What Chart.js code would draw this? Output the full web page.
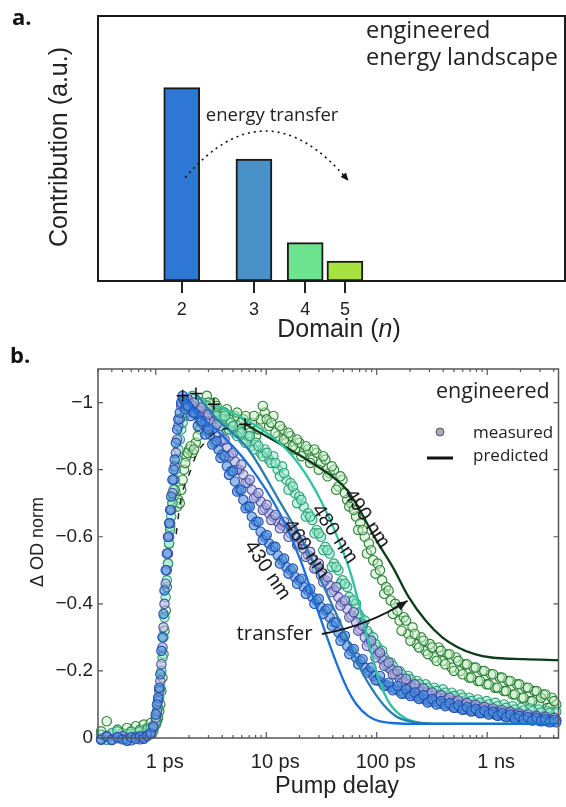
<!DOCTYPE html>
<html>
<head>
<meta charset="utf-8">
<script src="https://cdn.jsdelivr.net/npm/chart.js@4/dist/chart.umd.min.js"></script>
<style>
  html, body { margin: 0; padding: 0; background: #fff; }
  body { width: 566px; height: 807px; position: relative; overflow: hidden; }
  canvas { position: absolute; left: 0; }
  #domains { top: 0; }
  #kinetics { top: 345px; }
</style>
</head>
<body>
<canvas id="domains" width="566" height="345"></canvas>
<canvas id="kinetics" width="566" height="462"></canvas>
<script>
// ---- a. domain distribution ----
const domainN = [2, 3, 4, 5]
const contribution = [0.73, 0.46, 0.145, 0.075]
const domainColors = ['#2f77d6', '#4890c8', '#6ee490', '#a6e240']

// ---- b. transient absorption kinetics (delay in ps) ----
// first scan
const delays = [0.32, 0.36, 0.40, 0.45, 0.50, 0.55, 0.60, 0.66, 0.72, 0.78, 0.84, 0.90,
  0.95, 1.0, 1.05, 1.1, 1.15, 1.2, 1.26, 1.32, 1.38, 1.45, 1.52, 1.6,
  1.7, 1.8, 1.9, 2.0, 2.15, 2.3, 2.5, 2.7, 2.9, 3.1, 3.4, 3.7, 4.0, 4.4, 4.8, 5.2,
  5.7, 6.2, 6.8, 7.4, 8.1, 8.9, 9.7, 10.6, 11.6, 12.7, 13.9, 15.2, 16.6, 18.2, 19.9,
  21.8, 23.9, 26.1, 28.6, 31.3, 34.3, 37.5, 41, 45, 49, 54, 59, 65, 71, 78, 85, 93,
  102, 112, 122, 134, 147, 161, 176, 193, 211, 231, 253, 277, 303, 332, 364, 398,
  436, 477, 523, 572, 627, 686, 751, 823, 901, 986, 1080, 1180, 1300, 1420, 1550,
  1700, 1860, 2040, 2230, 2450, 2680, 2930, 3210, 3520, 3850, 4220]

const od430 = [0.005, -0.004, 0.006, -0.003, 0.004, 0.008, -0.002, 0.003, -0.005, 0.002, -0.006, -0.015,
  -0.035, -0.07, -0.12, -0.19, -0.3, -0.44, -0.55, -0.64, -0.72, -0.8, -0.88, -0.95,
  -1.0, -1.01, -0.995, -0.985, -0.97, -0.965, -0.945, -0.935, -0.915, -0.905, -0.88, -0.86, -0.845, -0.81, -0.795, -0.765,
  -0.74, -0.71, -0.69, -0.66, -0.645, -0.615, -0.6, -0.58, -0.57, -0.545, -0.53, -0.51, -0.5, -0.48, -0.47,
  -0.45, -0.44, -0.42, -0.41, -0.39, -0.38, -0.36, -0.345, -0.315, -0.3, -0.275, -0.26, -0.24, -0.23, -0.21, -0.2, -0.185,
  -0.172, -0.165, -0.158, -0.152, -0.146, -0.14, -0.133, -0.131, -0.13, -0.123, -0.12, -0.115, -0.11, -0.108, -0.104, -0.101,
  -0.1, -0.095, -0.091, -0.089, -0.086, -0.083, -0.081, -0.079, -0.076, -0.076, -0.072, -0.07, -0.068, -0.066, -0.065,
  -0.062, -0.061, -0.058, -0.055, -0.057, -0.054, -0.052, -0.052, -0.05, -0.049, -0.047]

const od460 = [0.002, -0.006, 0.004, 0.001, -0.005, 0.003, 0.007, -0.002, 0.004, -0.003, -0.008, -0.012,
  -0.03, -0.06, -0.11, -0.17, -0.27, -0.4, -0.5, -0.6, -0.68, -0.77, -0.85, -0.93,
  -0.99, -1.01, -1.0, -1.0, -0.99, -0.98, -0.975, -0.965, -0.955, -0.945, -0.925, -0.905, -0.89, -0.865, -0.845, -0.825,
  -0.8, -0.785, -0.76, -0.74, -0.72, -0.705, -0.685, -0.67, -0.66, -0.645, -0.635, -0.625, -0.61, -0.6, -0.58,
  -0.565, -0.545, -0.53, -0.505, -0.485, -0.47, -0.455, -0.44, -0.42, -0.405, -0.385, -0.365, -0.345, -0.325, -0.3, -0.285, -0.265,
  -0.25, -0.235, -0.22, -0.205, -0.19, -0.178, -0.168, -0.16, -0.152, -0.146, -0.14, -0.135, -0.13, -0.126, -0.121, -0.117,
  -0.114, -0.11, -0.106, -0.103, -0.1, -0.097, -0.094, -0.091, -0.088, -0.085, -0.083, -0.08, -0.078, -0.076, -0.073,
  -0.071, -0.069, -0.067, -0.065, -0.063, -0.061, -0.06, -0.058, -0.057, -0.055, -0.054]

const od480 = [-0.01, 0.005, -0.015, -0.02, 0.0, -0.012, -0.018, -0.005, -0.02, -0.01, -0.025, -0.03,
  -0.02, -0.05, -0.09, -0.15, -0.24, -0.36, -0.47, -0.58, -0.66, -0.74, -0.8, -0.86,
  -0.92, -0.96, -0.99, -1.0, -1.02, -0.99, -1.0, -0.97, -0.99, -0.96, -0.97, -0.94, -0.95, -0.92, -0.94, -0.91,
  -0.92, -0.89, -0.9, -0.87, -0.88, -0.85, -0.86, -0.83, -0.84, -0.8, -0.81, -0.77, -0.76, -0.73, -0.72,
  -0.69, -0.67, -0.65, -0.62, -0.6, -0.57, -0.55, -0.52, -0.5, -0.47, -0.45, -0.41, -0.4, -0.36, -0.35, -0.31, -0.3,
  -0.27, -0.26, -0.23, -0.225, -0.2, -0.2, -0.18, -0.185, -0.165, -0.17, -0.15, -0.16, -0.14, -0.15, -0.13, -0.145,
  -0.125, -0.135, -0.115, -0.13, -0.11, -0.12, -0.1, -0.115, -0.095, -0.11, -0.09, -0.105, -0.085, -0.1, -0.08,
  -0.095, -0.075, -0.09, -0.07, -0.088, -0.068, -0.085, -0.065, -0.08, -0.062, -0.078]

const od490 = [-0.02, -0.05, -0.01, -0.025, -0.015, -0.03, -0.02, -0.035, -0.025, -0.04, -0.03, -0.045,
  -0.03, -0.04, -0.06, -0.1, -0.18, -0.32, -0.45, -0.58, -0.68, -0.72, -0.73, -0.71,
  -0.74, -0.8, -0.84, -0.86, -0.85, -0.88, -0.92, -0.96, -1.02, -0.98, -1.0, -0.97, -0.95, -0.98, -0.94, -0.96,
  -0.93, -0.95, -0.92, -0.94, -0.9, -0.95, -0.97, -0.93, -0.96, -0.9, -0.92, -0.88, -0.9, -0.86, -0.88,
  -0.85, -0.86, -0.83, -0.85, -0.82, -0.83, -0.79, -0.8, -0.75, -0.77, -0.71, -0.7, -0.66, -0.64, -0.6, -0.58, -0.53,
  -0.52, -0.47, -0.45, -0.41, -0.4, -0.35, -0.36, -0.31, -0.33, -0.28, -0.3, -0.26, -0.28, -0.24, -0.27, -0.23,
  -0.25, -0.21, -0.24, -0.2, -0.22, -0.18, -0.21, -0.17, -0.2, -0.16, -0.19, -0.15, -0.18, -0.14, -0.17,
  -0.13, -0.16, -0.12, -0.15, -0.11, -0.14, -0.1, -0.13, -0.09, -0.12, -0.1]

// second scan, offset delays
const delays2 = [1.025, 1.075, 1.125, 1.175, 1.23, 1.29, 1.35, 1.415, 1.485, 1.56,
  1.65, 1.75, 1.85, 1.95, 2.07, 2.22, 2.4, 2.6, 2.8, 3.0,
  3.25, 3.55, 3.85, 4.2, 4.6, 5.0, 5.45, 5.95, 6.5, 7.1,
  7.75, 8.5, 9.3, 10.1, 11.1, 12.1, 13.3, 14.5, 15.9, 17.4,
  19.0, 20.8, 22.8, 25.0, 27.3, 29.9, 32.8, 35.9, 39.2, 43,
  47, 51.5, 56.5, 62, 68, 74.5, 81.5, 89, 97.5, 107,
  117, 128, 140, 154, 168, 184, 202, 221, 242, 265,
  290, 317, 348, 381, 417, 456, 500, 547, 599, 656,
  718, 786, 861, 943, 1030, 1130, 1240, 1360, 1480, 1620,
  1780, 1950, 2130, 2340, 2560, 2800, 3070, 3360, 3680, 4030]

const od430b = [-0.1, -0.15, -0.26, -0.37, -0.5, -0.6, -0.68, -0.77, -0.83, -0.92,
  -0.97, -1.02, -0.98, -0.99, -0.96, -0.97, -0.93, -0.945, -0.905, -0.92,
  -0.875, -0.885, -0.835, -0.84, -0.785, -0.795, -0.735, -0.74, -0.685, -0.69,
  -0.635, -0.645, -0.59, -0.605, -0.56, -0.57, -0.52, -0.535, -0.49, -0.505,
  -0.46, -0.475, -0.43, -0.445, -0.4, -0.415, -0.37, -0.385, -0.335, -0.345,
  -0.29, -0.305, -0.25, -0.265, -0.22, -0.235, -0.195, -0.21, -0.172, -0.185,
  -0.155, -0.165, -0.142, -0.155, -0.132, -0.145, -0.125, -0.136, -0.116, -0.128,
  -0.106, -0.116, -0.1, -0.11, -0.095, -0.104, -0.09, -0.098, -0.084, -0.092,
  -0.079, -0.087, -0.074, -0.082, -0.07, -0.078, -0.066, -0.074, -0.062, -0.07,
  -0.058, -0.066, -0.055, -0.062, -0.052, -0.06, -0.05, -0.056, -0.047, -0.054]

const od460b = [-0.08, -0.14, -0.22, -0.33, -0.46, -0.55, -0.64, -0.73, -0.81, -0.89,
  -0.95, -1.01, -0.99, -1.01, -0.98, -1.0, -0.965, -0.985, -0.945, -0.965,
  -0.92, -0.935, -0.885, -0.89, -0.84, -0.85, -0.8, -0.815, -0.76, -0.77,
  -0.715, -0.73, -0.68, -0.695, -0.65, -0.665, -0.625, -0.645, -0.6, -0.62,
  -0.575, -0.59, -0.54, -0.555, -0.505, -0.52, -0.465, -0.48, -0.435, -0.45,
  -0.395, -0.41, -0.36, -0.375, -0.32, -0.335, -0.275, -0.29, -0.24, -0.255,
  -0.215, -0.225, -0.19, -0.2, -0.165, -0.176, -0.15, -0.16, -0.138, -0.148,
  -0.127, -0.136, -0.12, -0.128, -0.112, -0.12, -0.104, -0.112, -0.097, -0.105,
  -0.091, -0.099, -0.086, -0.093, -0.08, -0.088, -0.076, -0.083, -0.071, -0.078,
  -0.067, -0.074, -0.063, -0.07, -0.06, -0.066, -0.057, -0.063, -0.054, -0.06]

const od480b = [-0.07, -0.12, -0.2, -0.3, -0.42, -0.52, -0.62, -0.7, -0.77, -0.83,
  -0.89, -0.94, -0.97, -1.01, -0.98, -1.01, -0.98, -1.0, -0.97, -0.98,
  -0.95, -0.96, -0.93, -0.96, -0.92, -0.93, -0.9, -0.91, -0.88, -0.9,
  -0.86, -0.87, -0.84, -0.85, -0.82, -0.82, -0.78, -0.79, -0.74, -0.75,
  -0.7, -0.71, -0.66, -0.66, -0.61, -0.61, -0.56, -0.56, -0.51, -0.51,
  -0.46, -0.46, -0.42, -0.41, -0.37, -0.34, -0.32, -0.29, -0.28, -0.25,
  -0.24, -0.21, -0.215, -0.19, -0.19, -0.17, -0.175, -0.155, -0.16, -0.14,
  -0.15, -0.135, -0.14, -0.125, -0.135, -0.12, -0.125, -0.11, -0.12, -0.1,
  -0.11, -0.095, -0.105, -0.09, -0.1, -0.085, -0.095, -0.08, -0.09, -0.078,
  -0.085, -0.072, -0.082, -0.07, -0.08, -0.066, -0.076, -0.064, -0.075, -0.06]

const od490b = [-0.05, -0.08, -0.14, -0.25, -0.38, -0.52, -0.63, -0.7, -0.74, -0.69,
  -0.7, -0.77, -0.82, -0.85, -0.87, -0.86, -0.9, -0.94, -0.99, -1.0,
  -0.96, -0.99, -0.96, -0.97, -0.95, -0.93, -0.97, -0.94, -0.96, -0.91,
  -0.96, -0.92, -0.99, -0.95, -0.94, -0.91, -0.93, -0.89, -0.91, -0.87,
  -0.89, -0.84, -0.87, -0.82, -0.86, -0.8, -0.84, -0.78, -0.81, -0.74,
  -0.78, -0.73, -0.69, -0.68, -0.62, -0.62, -0.55, -0.56, -0.49, -0.5,
  -0.43, -0.44, -0.37, -0.38, -0.32, -0.35, -0.29, -0.31, -0.27, -0.29,
  -0.25, -0.27, -0.23, -0.26, -0.22, -0.25, -0.2, -0.23, -0.19, -0.22,
  -0.18, -0.21, -0.17, -0.2, -0.16, -0.19, -0.15, -0.18, -0.14, -0.17,
  -0.13, -0.16, -0.12, -0.15, -0.11, -0.14, -0.12, -0.13, -0.09, -0.11]

// predicted kinetics
const fitDelays430 = [1.74, 2.47, 3.5, 6.9, 13.5, 20.4, 30.7, 43.6, 53.6, 65.7, 84, 105, 149, 210, 4420]
const fit430 = [-1.02, -0.96, -0.92, -0.815, -0.665, -0.53, -0.36, -0.22, -0.15, -0.1, -0.065, -0.05, -0.044, -0.042, -0.042]
const fitDelays460 = [2.32, 3.36, 6.9, 13.5, 23.6, 35.5, 53.6, 72.9, 93.3, 121.8, 149, 195, 260, 340, 4420]
const fit460 = [-1.027, -0.96, -0.86, -0.7, -0.56, -0.43, -0.3, -0.2, -0.14, -0.09, -0.065, -0.05, -0.044, -0.042, -0.042]
const fitDelays480 = [3.36, 7.32, 15.3, 25.6, 40.2, 58.2, 80.8, 105.5, 126.9, 149, 183.5, 225, 340, 4420]
const fit480 = [-0.995, -0.94, -0.86, -0.76, -0.63, -0.49, -0.31, -0.17, -0.11, -0.08, -0.058, -0.048, -0.043, -0.042]
const fitDelays490 = [6.47, 13.5, 27.2, 53.6, 70, 99, 140.6, 195, 277, 392, 545, 772, 1094, 2153, 4420]
const fit490 = [-0.935, -0.876, -0.816, -0.74, -0.68, -0.59, -0.508, -0.42, -0.35, -0.3, -0.27, -0.25, -0.24, -0.235, -0.232]

// onset of each predicted trace, and the rise of the 490 nm one
const peakDelays = [1.75, 2.31, 3.36, 6.43]
const peakOD = [-1.02, -1.027, -0.995, -0.935]
const riseDelays = [1.53, 1.64, 1.75, 2.08, 2.38, 3.47, 5.6]
const riseOD = [-0.608, -0.687, -0.737, -0.8, -0.856, -0.915, -0.93]

const delayTicks = [1, 10, 100, 1000]
const delayTickLabels = ['1 ps', '10 ps', '100 ps', '1 ns']
const odTicks = [-1, -0.8, -0.6, -0.4, -0.2, 0]

const arial = '"Liberation Sans", Arial, sans-serif'
const segoe = '"Open Sans", sans-serif'

function pts(xs, ys) {
  return xs.map((x, i) => ({ x: x, y: ys[i] }))
}

function arrowHead(ctx, x, y, fromX, fromY, len, half) {
  const a = Math.atan2(y - fromY, x - fromX)
  ctx.beginPath()
  ctx.moveTo(x, y)
  ctx.lineTo(x - len * Math.cos(a) + half * Math.sin(a), y - len * Math.sin(a) - half * Math.cos(a))
  ctx.lineTo(x - len * Math.cos(a) - half * Math.sin(a), y - len * Math.sin(a) + half * Math.cos(a))
  ctx.closePath()
  ctx.fill()
}

// frame, titles and the energy-transfer arrow for panel a
const domainDecor = {
  id: 'domainDecor',
  afterDraw(chart) {
    const { ctx, chartArea: a, scales: { x, y } } = chart
    ctx.save()
    ctx.strokeStyle = '#1a1a1a'
    ctx.lineWidth = 2
    ctx.strokeRect(a.left, a.top, a.right - a.left, a.bottom - a.top)

    ctx.fillStyle = '#111'
    ctx.textAlign = 'left'
    ctx.textBaseline = 'alphabetic'
    ctx.font = 'bold 22px ' + segoe
    ctx.fillText('a.', 12, 25)

    ctx.fillStyle = '#222'
    ctx.font = '23.5px ' + segoe
    ctx.fillText('engineered', 366, 38)
    ctx.fillText('energy landscape', 366, 65)

    ctx.font = '18.5px ' + segoe
    ctx.fillText('energy transfer', x.getPixelForValue(2.29), y.getPixelForValue(0.604))

    // y title
    ctx.save()
    ctx.translate(60, 147)
    ctx.rotate(-Math.PI / 2)
    ctx.textAlign = 'center'
    ctx.textBaseline = 'middle'
    ctx.font = '25px ' + arial
    ctx.fillText('Contribution (a.u.)', 0, 0)
    ctx.restore()

    // x title with italic n
    ctx.font = '25px ' + arial
    const p1 = 'Domain (', p3 = ')'
    const w1 = ctx.measureText(p1).width, w3 = ctx.measureText(p3).width
    ctx.font = 'italic 25px ' + arial
    const w2 = ctx.measureText('n').width
    let tx = 339 - (w1 + w2 + w3) / 2
    ctx.textBaseline = 'middle'
    ctx.font = '25px ' + arial
    ctx.fillText(p1, tx, 330)
    ctx.font = 'italic 25px ' + arial
    ctx.fillText('n', tx + w1, 330)
    ctx.font = '25px ' + arial
    ctx.fillText(p3, tx + w1 + w2, 330)

    // dotted arc from n=2 towards n=5
    const x0 = x.getPixelForValue(2.04), y0 = y.getPixelForValue(0.39)
    const x1 = x.getPixelForValue(5.1), y1 = y.getPixelForValue(0.378)
    const xm = x.getPixelForValue(3.22), ym = y.getPixelForValue(0.566)
    const cx = 2 * xm - (x0 + x1) / 2, cy = 2 * ym - (y0 + y1) / 2
    ctx.strokeStyle = '#111'
    ctx.fillStyle = '#111'
    ctx.lineWidth = 1.6
    ctx.setLineDash([2, 4])
    ctx.beginPath()
    ctx.moveTo(x0, y0)
    ctx.quadraticCurveTo(cx, cy, x1, y1)
    ctx.stroke()
    ctx.setLineDash([])
    arrowHead(ctx, x1, y1, cx, cy, 8, 3.5)
    ctx.restore()
  }
}

const domainCtx = document.getElementById('domains').getContext('2d')
let domainChart = new Chart(domainCtx, {
  type: 'bar',
  data: {
    datasets: [{
      data: pts(domainN, contribution),
      backgroundColor: domainColors,
      borderColor: '#1a1a1a',
      borderWidth: 2,
      borderSkipped: false,
      barThickness: 36
    }]
  },
  options: {
    responsive: false,
    animation: false,
    events: [],
    layout: { padding: { left: 0, right: 1, top: 16, bottom: 0 } },
    plugins: { legend: { display: false }, tooltip: { enabled: false } },
    scales: {
      x: {
        type: 'logarithmic',
        min: 1.25,
        max: 17.2,
        offset: false,
        afterBuildTicks: s => { s.ticks = domainN.map(v => ({ value: v })) },
        afterFit: s => { s.height = 64 },
        ticks: {
          callback: v => String(v),
          autoSkip: false,
          maxRotation: 0,
          padding: 6,
          color: '#222',
          font: { family: arial, size: 18 }
        },
        grid: { display: true, offset: false, drawOnChartArea: false, drawTicks: true, tickLength: 12, color: '#222', lineWidth: 2 },
        border: { display: false }
      },
      y: {
        min: 0,
        max: 1,
        afterFit: s => { s.width = 98 },
        ticks: { display: false },
        grid: { display: false, drawTicks: false },
        border: { display: false }
      }
    }
  },
  plugins: [domainDecor]
})

// frame, inward ticks, legend and annotations for panel b
const kinDecor = {
  id: 'kinDecor',
  afterDatasetsDraw(chart) {
    const { ctx, chartArea: a, scales: { x, y } } = chart
    ctx.save()
    ctx.strokeStyle = '#555'
    ctx.lineWidth = 1.5
    ctx.strokeRect(a.left, a.top, a.right - a.left, a.bottom - a.top)
    ctx.lineWidth = 1.2
    ctx.beginPath()
    for (let d = 0.1; d < 1e4; d *= 10) {
      for (let k = 1; k < 10; k++) {
        const v = d * k
        if (v < x.min || v > x.max) continue
        const px = x.getPixelForValue(v)
        const len = k === 1 ? 6 : 3
        ctx.moveTo(px, a.bottom); ctx.lineTo(px, a.bottom - len)
        ctx.moveTo(px, a.top); ctx.lineTo(px, a.top + len)
      }
    }
    odTicks.forEach(v => {
      const py = y.getPixelForValue(v)
      ctx.moveTo(a.left, py); ctx.lineTo(a.left + 5, py)
      ctx.moveTo(a.right, py); ctx.lineTo(a.right - 5, py)
    })
    ctx.stroke()

    ctx.fillStyle = '#111'
    ctx.textAlign = 'left'
    ctx.textBaseline = 'alphabetic'
    ctx.font = 'bold 22px ' + segoe
    ctx.fillText('b.', 10, 18)

    // legend
    ctx.fillStyle = '#222'
    ctx.font = '21.5px ' + segoe
    ctx.fillText('engineered', 436, 53)
    ctx.font = '17px ' + segoe
    ctx.textBaseline = 'middle'
    ctx.fillText('measured', 473, 88)
    ctx.fillText('predicted', 473, 111)
    ctx.beginPath()
    ctx.arc(440, 87, 4, 0, Math.PI * 2)
    ctx.fillStyle = '#a9a9b8'
    ctx.fill()
    ctx.strokeStyle = '#555'
    ctx.lineWidth = 1
    ctx.stroke()
    ctx.fillStyle = '#111'
    ctx.fillRect(427, 111.5, 26, 3)

    // wavelength labels along the traces
    const bands = [
      { t: '430 nm', d: 10.2, v: -0.5 },
      { t: '460 nm', d: 23, v: -0.563 },
      { t: '480 nm', d: 41.5, v: -0.608 },
      { t: '490 nm', d: 81, v: -0.653 }
    ]
    ctx.fillStyle = '#1a1a1a'
    ctx.font = '20px ' + arial
    ctx.textAlign = 'center'
    bands.forEach(b => {
      ctx.save()
      ctx.translate(x.getPixelForValue(b.d), y.getPixelForValue(b.v))
      ctx.rotate(56 * Math.PI / 180)
      ctx.fillText(b.t, 0, 0)
      ctx.restore()
    })

    // transfer arrow
    ctx.textAlign = 'left'
    ctx.font = '20.5px ' + segoe
    ctx.fillText('transfer', x.getPixelForValue(5.38), y.getPixelForValue(-0.31))
    const ax0 = x.getPixelForValue(32), ay0 = y.getPixelForValue(-0.31)
    const ax1 = x.getPixelForValue(190), ay1 = y.getPixelForValue(-0.409)
    const acx = x.getPixelForValue(85), acy = y.getPixelForValue(-0.335)
    ctx.strokeStyle = '#111'
    ctx.lineWidth = 1.8
    ctx.beginPath()
    ctx.moveTo(ax0, ay0)
    ctx.quadraticCurveTo(acx, acy, ax1, ay1)
    ctx.stroke()
    arrowHead(ctx, ax1, ay1, acx, acy, 11, 4.5)

    // axis titles
    ctx.fillStyle = '#222'
    ctx.save()
    ctx.translate(38, 197)
    ctx.rotate(-Math.PI / 2)
    ctx.textAlign = 'center'
    ctx.textBaseline = 'middle'
    ctx.font = '18px ' + arial
    ctx.fillText('\u0394 OD norm', 0, 0)
    ctx.restore()
    ctx.textAlign = 'center'
    ctx.textBaseline = 'alphabetic'
    ctx.font = '23.5px ' + arial
    ctx.fillText('Pump delay', 337, 448)
    ctx.restore()
  }
}

function measured(label, ys, ys2, fill, edge, order) {
  return {
    label: label, data: pts(delays, ys).concat(pts(delays2, ys2)), order: order, clip: false,
    showLine: false, pointRadius: 4.7, pointBorderWidth: 1.1,
    pointBackgroundColor: fill, pointBorderColor: edge
  }
}

function predicted(label, xs, ys, color, order) {
  return {
    label: label, data: pts(xs, ys), order: order, showLine: true,
    borderColor: color, borderWidth: 2.3, pointRadius: 0,
    cubicInterpolationMode: 'monotone', fill: false
  }
}

const kinCtx = document.getElementById('kinetics').getContext('2d')
let kinChart = new Chart(kinCtx, {
  type: 'scatter',
  data: {
    datasets: [
      measured('490 nm', od490, od490b, 'rgba(200,240,200,0.5)', '#2b7d35', 9),
      measured('480 nm', od480, od480b, 'rgba(150,235,200,0.55)', '#2a9d78', 8),
      measured('460 nm', od460, od460b, 'rgba(175,178,225,0.6)', '#4b4f9e', 7),
      measured('430 nm', od430, od430b, 'rgba(80,145,222,0.6)', '#1e4fae', 6),
      predicted('490 nm fit', fitDelays490, fit490, '#0e3b1c', 4),
      predicted('480 nm fit', fitDelays480, fit480, '#2cc4a2', 3),
      predicted('460 nm fit', fitDelays460, fit460, '#2a7db0', 2),
      predicted('430 nm fit', fitDelays430, fit430, '#1a6fd8', 1),
      {
        label: 'rise', data: pts(riseDelays, riseOD), order: 0, showLine: true,
        borderColor: '#222', borderWidth: 1.5, borderDash: [6, 9], pointRadius: 0
      },
      {
        label: 'onset', data: pts(peakDelays, peakOD), order: 0, showLine: false,
        pointStyle: 'cross', pointRadius: 6, pointBorderWidth: 1.5,
        pointBorderColor: '#111', pointBackgroundColor: '#111'
      }
    ]
  },
  options: {
    responsive: false,
    animation: false,
    events: [],
    layout: { padding: { left: 0, right: 1, top: 24, bottom: 0 } },
    plugins: { legend: { display: false }, tooltip: { enabled: false } },
    scales: {
      x: {
        type: 'logarithmic',
        min: 0.304,
        max: 4420,
        afterBuildTicks: s => { s.ticks = delayTicks.map(v => ({ value: v })) },
        afterFit: s => { s.height = 69 },
        ticks: {
          callback: (v, i) => delayTickLabels[i],
          autoSkip: false,
          maxRotation: 0,
          padding: 12,
          labelOffset: 9,
          color: '#222',
          font: { family: arial, size: 20 }
        },
        grid: { display: false, drawTicks: false },
        border: { display: false }
      },
      y: {
        reverse: true,
        min: -1.1,
        max: 0,
        afterBuildTicks: s => { s.ticks = odTicks.map(v => ({ value: v })) },
        afterFit: s => { s.width = 98 },
        ticks: {
          callback: v => v === 0 ? '0' : '\u2212' + Math.abs(v),
          padding: 5,
          color: '#222',
          font: { family: arial, size: 19 }
        },
        grid: { display: false, drawTicks: false },
        border: { display: false }
      }
    }
  },
  plugins: [kinDecor]
})
</script>
</body>
</html>
